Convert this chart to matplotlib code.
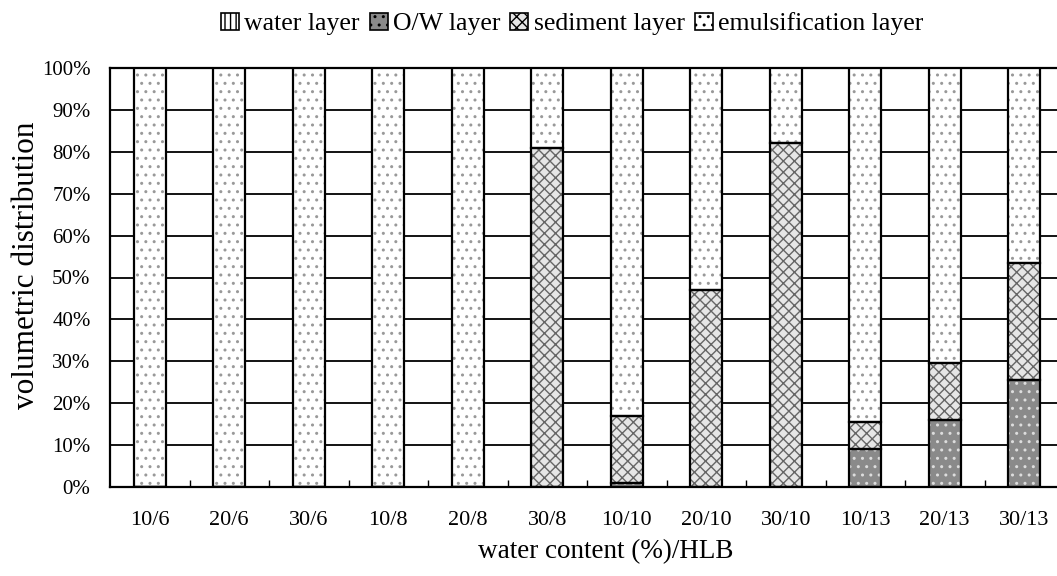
import matplotlib
matplotlib.use("Agg")
import matplotlib.pyplot as plt
import numpy as np
from matplotlib.patches import Patch

plt.rcParams['font.family'] = ['Liberation Serif', 'DejaVu Serif']
plt.rcParams['hatch.linewidth'] = 1.0

categories = ["10/6", "20/6", "30/6", "10/8", "20/8", "30/8",
              "10/10", "20/10", "30/10", "10/13", "20/13", "30/13"]
water = [0, 0, 0, 0, 0, 0, 0, 0, 0, 0, 0, 0]
ow = [0, 0, 0, 0, 0, 0, 1, 0, 0, 9, 16, 25.5]
sediment = [0, 0, 0, 0, 0, 81, 16, 47, 82, 6.5, 13.5, 28]
emulsification = [100 - w - o - s for w, o, s in zip(water, ow, sediment)]

series = [
    ("water layer", water, "white", "|||", "#555555"),
    ("O/W layer", ow, "#8a8a8a", "..", "#dddddd"),
    ("sediment layer", sediment, "#e6e6e6", "xxx", "#666666"),
    ("emulsification layer", emulsification, "white", "..", "#999999"),
]

W, H = 1057, 576
fig = plt.figure(figsize=(W / 100, H / 100), dpi=100)
ax = fig.add_axes([110 / W, (576 - 487) / H, 954 / W, 419 / H])

x = np.arange(len(categories))
bw = 0.4
bottom = np.zeros(len(categories))
for name, vals, fc, hatch, hc in series:
    vals = np.array(vals, dtype=float)
    ax.bar(x, vals, bw, bottom=bottom, color=fc, edgecolor=hc, hatch=hatch,
           linewidth=0, zorder=3)
    ax.bar(x, vals, bw, bottom=bottom, fill=False, edgecolor="black",
           linewidth=1.6, zorder=4)
    bottom += vals

ax.set_xlim(-0.5, len(categories) - 0.5)
ax.set_ylim(0, 100)
ax.set_yticks(np.arange(0, 101, 10))
ax.set_yticklabels([f"{v}%" for v in range(0, 101, 10)], fontsize=15)
ax.yaxis.grid(True, color="black", linewidth=1.3, zorder=1)
ax.set_axisbelow(True)
ax.tick_params(axis="y", length=0, pad=14)

ax.set_xticks(x)
ax.set_xticklabels(categories, fontsize=16)
ax.tick_params(axis="x", length=0, pad=17)
ax.set_xticks(np.arange(0.5, len(categories) - 0.5, 1), minor=True)
ax.tick_params(axis="x", which="minor", direction="in", length=5, width=1)

for s in ["left", "bottom", "top"]:
    ax.spines[s].set_linewidth(1.6)
ax.spines["right"].set_visible(False)

fig.text(606 / W, 1 - 552 / H, "water content (%)/HLB", fontsize=19.5,
         ha="center", va="center")
fig.text(27 / W, 1 - 265 / H, "volumetric distribution", fontsize=22.5,
         ha="center", va="center", rotation=90)

handles = [Patch(facecolor=fc, edgecolor="black", hatch=h, linewidth=1.2)
           for name, vals, fc, h, hc in series]
fig.legend(handles, [s[0] for s in series], loc="center", ncol=4,
           bbox_to_anchor=(572 / W, 1 - 24 / H), frameon=False, fontsize=18.5,
           handlelength=0.7, handleheight=0.7, handletextpad=0.2,
           columnspacing=0.4, borderpad=0)

fig.savefig("out.png", dpi=100)
